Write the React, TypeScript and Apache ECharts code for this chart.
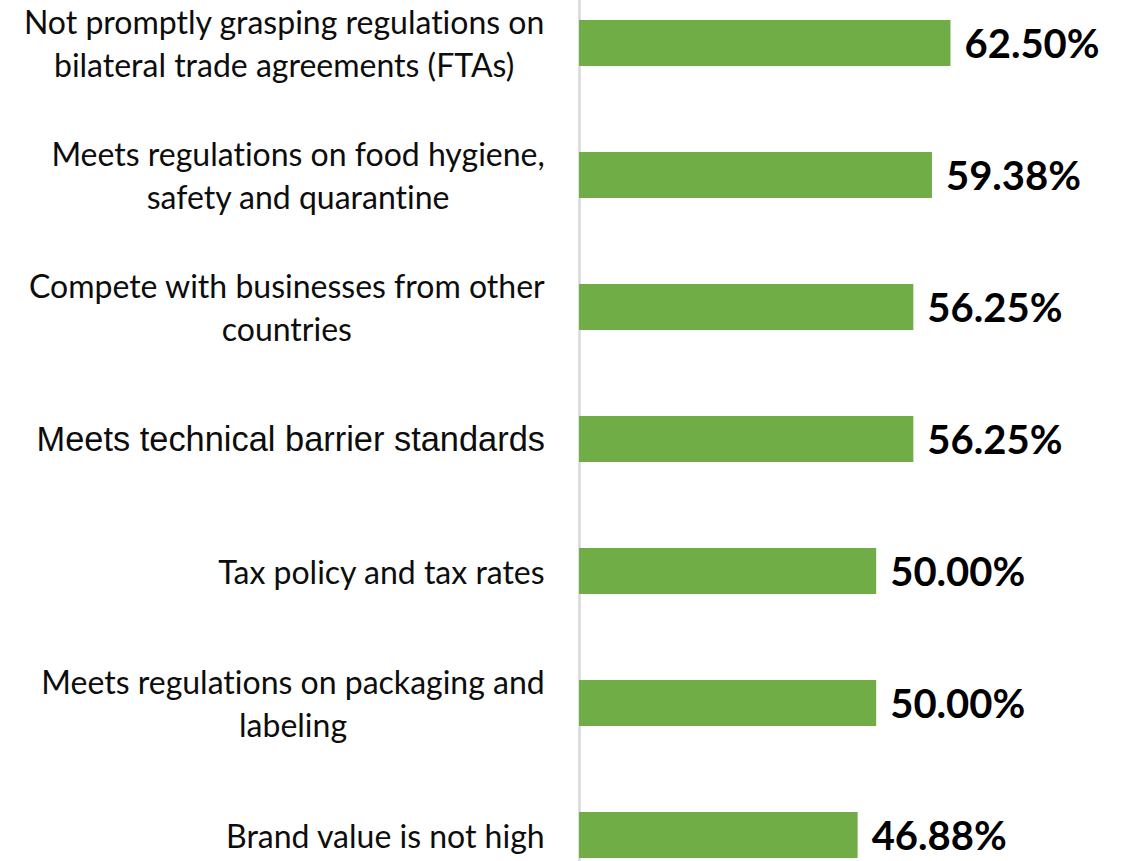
import React, { useEffect, useRef } from "react";
import * as echarts from "echarts";

const categories = [
  "{c|Not promptly grasping regulations on}\n{c|bilateral trade agreements (FTAs)}",
  "{c|Meets regulations on food hygiene,}\n{c|safety and quarantine}",
  "{c|Compete with businesses from other}\n{c|countries}",
  "{a|Meets technical barrier standards}",
  "{c|Tax policy and tax rates}",
  "{c|Meets regulations on packaging and}\n{c|labeling}",
  "{c|Brand value is not high}",
];
const values = [62.5, 59.38, 56.25, 56.25, 50.0, 50.0, 46.88];

export default function App() {
  const ref = useRef<HTMLDivElement>(null);
  useEffect(() => {
    const chart = echarts.init(ref.current!, null, { renderer: "svg" });
    chart.setOption({
      animation: false,
      grid: {
        left: 579,
        right: 74.5,
        top: -23,
        bottom: -40,
        containLabel: false,
        outerBoundsMode: "none",
      },
      xAxis: { type: "value", min: 0, max: 80, show: false },
      yAxis: {
        type: "category",
        inverse: true,
        data: categories,
        axisLine: { show: true, lineStyle: { color: "#d9d9d9", width: 2.5 } },
        axisTick: { show: false },
        axisLabel: {
          margin: 34,
          align: "right",
          color: "#0d0d0d",
          fontFamily: "Lato",
          fontSize: 32,
          lineHeight: 43,
          rich: {
            c: { align: "center", fontFamily: "Lato", fontSize: 32, lineHeight: 43, color: "#0d0d0d" },
            a: { fontFamily: "Liberation Sans", fontSize: 34.4, lineHeight: 43, color: "#0d0d0d" },
          },
        },
      },
      series: [
        {
          type: "bar",
          data: values,
          barWidth: 46,
          itemStyle: { color: "#70ad47" },
          label: {
            show: true,
            position: "right",
            distance: 14,
            color: "#000",
            fontFamily: "Lato",
            fontWeight: "bold",
            fontSize: 40,
            formatter: (p: any) => p.value.toFixed(2) + "%",
          },
        },
      ],
    });
    return () => chart.dispose();
  }, []);
  return (
    <>
      <style>{"svg text { font-variant-ligatures: none; font-feature-settings: 'liga' 0, 'clig' 0; }"}</style>
      <div
        ref={ref}
        style={{ position: "fixed", left: 0, top: 0, width: 1129, height: 861, background: "#fff" }}
      />
    </>
  );
}
